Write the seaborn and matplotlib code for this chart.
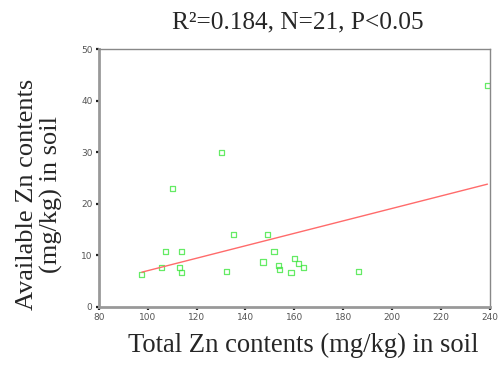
import matplotlib
matplotlib.use("Agg")
import matplotlib.pyplot as plt
import seaborn as sns
import pandas as pd

total_zn = [97.6, 105.8, 107.2, 110.3, 113.1, 113.9, 113.9, 130.1, 132.3, 135.1,
            147.2, 149.0, 151.7, 153.5, 153.9, 158.6, 160.2, 161.8, 163.6, 186.4, 239.0]
avail_zn = [6.3, 7.7, 10.8, 22.9, 7.7, 10.8, 6.6, 30.0, 6.8, 14.0,
            8.7, 14.0, 10.8, 8.1, 7.3, 6.6, 9.4, 8.4, 7.6, 6.8, 43.0]
x_ticks = [80, 100, 120, 140, 160, 180, 200, 220, 240]
y_ticks = [0, 10, 20, 30, 40, 50]
title = "R²=0.184, N=21, P<0.05"
xlabel = "Total Zn contents (mg/kg) in soil"
ylabel = "Available Zn contents\n(mg/kg) in soil"

df = pd.DataFrame({"total": total_zn, "avail": avail_zn})

sns.set_theme(style="white")
plt.rcParams["font.family"] = ["DejaVu Sans"]

fig = plt.figure(figsize=(5.04, 3.72), dpi=100)
ax = fig.add_axes([0.196, 0.175, 0.776, 0.693])

sns.regplot(data=df, x="total", y="avail", ax=ax, ci=None, truncate=True,
            marker="s",
            scatter_kws=dict(s=14, facecolors="none", edgecolors="#3ee63e", linewidths=0.9),
            line_kws=dict(color="#ff6b6b", linewidth=1.0))

ax.set_xlim(80, 240)
ax.set_ylim(0, 50)
ax.set_xticks(x_ticks)
ax.set_yticks(y_ticks)
ax.tick_params(axis="both", labelsize=6.5, labelcolor="#555555", length=2.5, width=1.6,
               color="#222222", direction="out", pad=2, bottom=True, left=True)

for side in ["top", "right"]:
    ax.spines[side].set_color("#888888")
    ax.spines[side].set_linewidth(1.0)
for side in ["left", "bottom"]:
    ax.spines[side].set_color("#999999")
    ax.spines[side].set_linewidth(2.0)

ax.set_xlabel("")
ax.set_ylabel("")
serif = ["Liberation Serif", "DejaVu Serif"]
fig.text(0.59, 0.94, title, ha="center", va="center", fontsize=18.2, family=serif)
fig.text(0.601, 0.072, xlabel, ha="center", va="center", fontsize=19.2, family=serif)
fig.text(0.078, 0.478, ylabel, ha="center", va="center", rotation=90, fontsize=19,
         family=serif, linespacing=1.1, multialignment="center")

fig.savefig("out.png", dpi=100, facecolor="white")
